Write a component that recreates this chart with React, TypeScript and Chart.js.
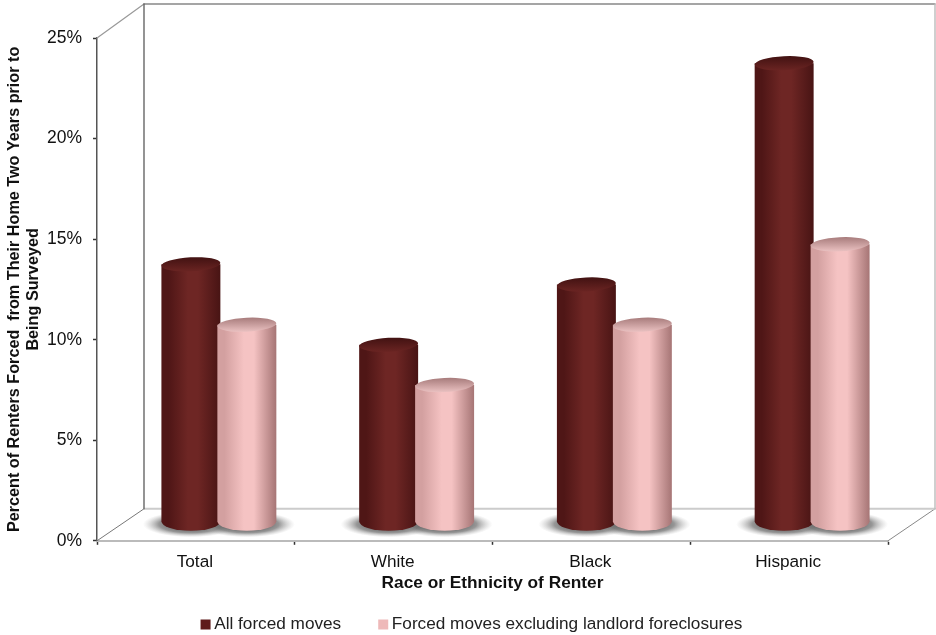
import React, { useEffect, useRef } from "react";
import { Chart, registerables } from "chart.js";

Chart.register(...registerables);

const categories = ["Total", "White", "Black", "Hispanic"];
const allForcedMoves = [13, 9, 12, 23];
const excludingForeclosures = [10, 7, 10, 14];
const seriesNames = ["All forced moves", "Forced moves excluding landlord foreclosures"];
const legendSwatches = ["#5e1b1b", "#eeb9b9"];
const yAxisTitle = ["Percent of Renters Forced  from Their Home Two Years prior to", "Being Surveyed"];
const xAxisTitle = "Race or Ethnicity of Renter";

const FONT = "'Liberation Sans', Arial, sans-serif";

// Oblique offset of the back wall relative to the front axes.
const WALL_DX = 47;
const WALL_DY = -34;
// Cylinders stand halfway into the floor.
const BAR_DX = 23;
const BASE_DY = -19;
const TOP_DY = -15;
const CAP_RY = 7;

type Ramp = { edgeL: string; mid: string; edgeR: string; capBack: string; capFront: string };
const ramps: Ramp[] = [
  { edgeL: "#4f1616", mid: "#6e2624", edgeR: "#481414", capBack: "#421212", capFront: "#6a2422" },
  { edgeL: "#d3a0a0", mid: "#f5c3c3", edgeR: "#a67575", capBack: "#a87c7c", capFront: "#e9c0c0" },
];

const cubePlugin = {
  id: "cube",
  beforeDatasetsDraw(chart: any) {
    const { ctx, chartArea: a } = chart;
    const backBottom = a.bottom + WALL_DY + 2;
    const backTop = a.top + WALL_DY;
    ctx.save();
    ctx.lineCap = "round";
    const seg = (x1: number, y1: number, x2: number, y2: number, color: string, w: number) => {
      ctx.strokeStyle = color;
      ctx.lineWidth = w;
      ctx.beginPath();
      ctx.moveTo(x1, y1);
      ctx.lineTo(x2, y2);
      ctx.stroke();
    };
    seg(a.left, a.bottom, a.left + WALL_DX, backBottom, "#777", 1);
    seg(a.left, a.top, a.left + WALL_DX, backTop, "#999", 1.2);
    seg(a.right, a.bottom, a.right + WALL_DX, backBottom, "#888", 1);
    seg(a.left + WALL_DX, backBottom, a.right + WALL_DX, backBottom, "#ccc", 2);
    seg(a.left + WALL_DX, backTop, a.right + WALL_DX, backTop, "#888", 1.4);
    seg(a.right + WALL_DX, backTop, a.right + WALL_DX, backBottom, "#bbb", 1.4);
    seg(a.left + WALL_DX, backTop, a.left + WALL_DX, backBottom, "#666", 1.4);

    // Soft floor shadows under every cylinder.
    chart.data.datasets.forEach((_: any, i: number) => {
      chart.getDatasetMeta(i).data.forEach((bar: any) => {
        const cx = bar.x + BAR_DX;
        const cy = bar.base + BASE_DY + 3;
        ctx.save();
        ctx.translate(cx, cy);
        ctx.scale(1, 0.27);
        const g = ctx.createRadialGradient(0, 0, 16, 0, 0, 48);
        g.addColorStop(0, "rgba(85,85,85,0.95)");
        g.addColorStop(0.5, "rgba(115,115,115,0.75)");
        g.addColorStop(1, "rgba(180,180,180,0)");
        ctx.fillStyle = g;
        ctx.beginPath();
        ctx.arc(0, 0, 48, 0, Math.PI * 2);
        ctx.fill();
        ctx.restore();
      });
    });
    ctx.restore();
  },
  afterDatasetsDraw(chart: any) {
    const { ctx } = chart;
    ctx.save();
    chart.data.datasets.forEach((_: any, i: number) => {
      const ramp = ramps[i];
      chart.getDatasetMeta(i).data.forEach((bar: any) => {
        const cx = bar.x + BAR_DX;
        const rx = bar.width / 2 + 1.5;
        const top = bar.y + TOP_DY;
        const base = bar.base + BASE_DY;
        const side = ctx.createLinearGradient(cx - rx, 0, cx + rx, 0);
        side.addColorStop(0, ramp.edgeL);
        side.addColorStop(0.12, ramp.edgeL);
        side.addColorStop(0.45, ramp.mid);
        side.addColorStop(0.62, ramp.mid);
        side.addColorStop(1, ramp.edgeR);
        ctx.fillStyle = side;
        ctx.beginPath();
        ctx.moveTo(cx - rx, top);
        ctx.lineTo(cx - rx, base);
        ctx.ellipse(cx, base, rx, 9.5, 0, Math.PI, 0, true);
        ctx.lineTo(cx + rx, top);
        ctx.closePath();
        ctx.fill();
        const cap = ctx.createLinearGradient(0, top - CAP_RY, 0, top + CAP_RY);
        cap.addColorStop(0, ramp.capBack);
        cap.addColorStop(1, ramp.capFront);
        ctx.fillStyle = cap;
        ctx.beginPath();
        ctx.ellipse(cx, top, rx, CAP_RY, -0.05, 0, Math.PI * 2);
        ctx.fill();
      });
    });
    ctx.restore();
  },
};

export default function App() {
  const canvasRef = useRef<HTMLCanvasElement>(null);
  useEffect(() => {
    const chart = new Chart(canvasRef.current!, {
      type: "bar",
      data: {
        labels: categories,
        datasets: [
          { label: seriesNames[0], data: allForcedMoves, backgroundColor: "rgba(0,0,0,0)", borderWidth: 0 },
          { label: seriesNames[1], data: excludingForeclosures, backgroundColor: "rgba(0,0,0,0)", borderWidth: 0 },
        ],
      },
      options: {
        responsive: false,
        animation: false,
        // The left inset centres the legend under the whole 3D box, floor included.
        layout: { padding: { top: 38, right: 48, left: 60, bottom: -8 } },
        datasets: { bar: { categoryPercentage: 0.566, barPercentage: 1 } },
        plugins: {
          tooltip: { enabled: false },
          legend: {
            position: "bottom",
            onClick: () => {},
            labels: {
              usePointStyle: true,
              pointStyle: "rect",
              boxWidth: 0.01,
              boxHeight: 10,
              padding: 42,
              color: "#222",
              font: { family: FONT, size: 17.2 },
              generateLabels: () =>
                seriesNames.map((text, i) => ({
                  text,
                  fillStyle: legendSwatches[i],
                  strokeStyle: legendSwatches[i],
                  lineWidth: 0,
                  pointStyle: "rect",
                  datasetIndex: i,
                  fontColor: "#222",
                })),
            },
          },
        },
        scales: {
          x: {
            afterFit: (s: any) => {
              s.height = 33;
            },
            border: { color: "#bbb", width: 2 },
            grid: { drawOnChartArea: false, tickColor: "#333", tickLength: 4, tickWidth: 1.5, offset: true },
            ticks: { color: "#111", padding: 7, labelOffset: -1, font: { family: FONT, size: 17.2 }, maxRotation: 0 },
            title: {
              display: true,
              text: xAxisTitle,
              color: "#111",
              font: { family: FONT, size: 17.3, weight: "bold" },
              padding: { top: 0, bottom: -20 },
            },
          },
          y: {
            min: 0,
            max: 25,
            afterFit: (s: any) => {
              s.width = 37;
            },
            border: { color: "#555", width: 1.5 },
            grid: { drawOnChartArea: false, tickColor: "#333", tickLength: 4, tickWidth: 1.5 },
            // Mirrored labels are not clipped to the narrow scale box; the negative
            // padding carries them back to the left of the axis line.
            ticks: {
              stepSize: 5,
              color: "#111",
              mirror: true,
              crossAlign: "far",
              padding: -50,
              font: { family: FONT, size: 17.5 },
              callback: (v: any) => `${v}%`,
            },
            title: {
              display: true,
              text: yAxisTitle,
              color: "#111",
              font: { family: FONT, size: 16.2, weight: "bold", lineHeight: 1.17 },
              padding: { top: -55, bottom: 0 },
            },
          },
        },
      },
      plugins: [cubePlugin],
    } as any);
    return () => chart.destroy();
  }, []);
  return (
    <div style={{ position: "absolute", left: 0, top: 0, width: 936, height: 635, background: "#fff" }}>
      <canvas ref={canvasRef} width={936} height={635} style={{ display: "block" }} />
    </div>
  );
}
